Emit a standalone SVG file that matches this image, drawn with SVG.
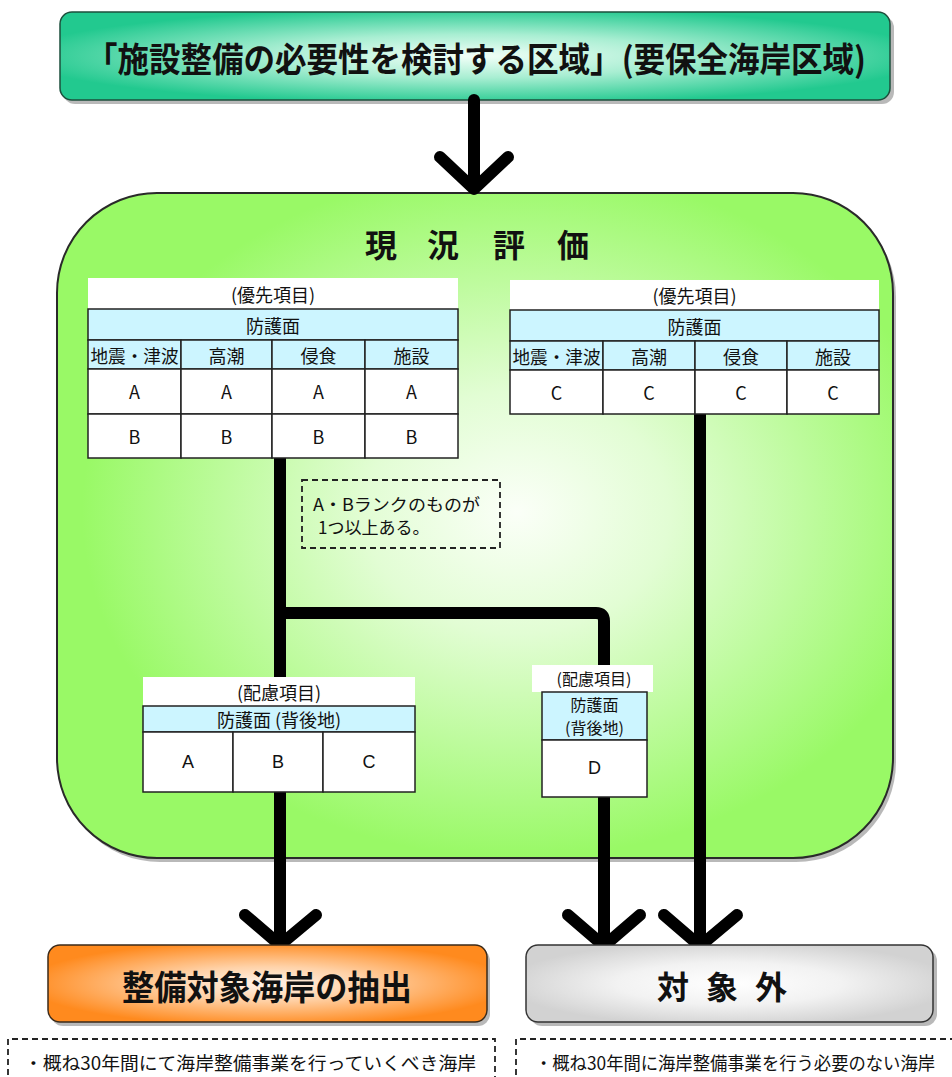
<svg xmlns="http://www.w3.org/2000/svg" width="952" height="1077" viewBox="0 0 952 1077">
<defs>
<radialGradient id="gTop" cx="0.5" cy="0.5" r="0.55">
<stop offset="0" stop-color="#f2fff8"/>
<stop offset="0.45" stop-color="#a8eed2"/>
<stop offset="1" stop-color="#22c98f"/>
</radialGradient>
<radialGradient id="gGreen" cx="0.55" cy="0.48" r="0.52">
<stop offset="0" stop-color="#fbfff8"/>
<stop offset="0.35" stop-color="#e2fdd4"/>
<stop offset="1" stop-color="#99f966"/>
</radialGradient>
<radialGradient id="gOrange" cx="0.5" cy="0.5" r="0.55">
<stop offset="0" stop-color="#fff4ea"/>
<stop offset="0.4" stop-color="#ffd2a8"/>
<stop offset="1" stop-color="#ff8a1e"/>
</radialGradient>
<radialGradient id="gGray" cx="0.5" cy="0.5" r="0.55">
<stop offset="0" stop-color="#ffffff"/>
<stop offset="0.5" stop-color="#f2f2f2"/>
<stop offset="1" stop-color="#d2d2d2"/>
</radialGradient>
</defs>
<style>
.t{font-family:"Noto Sans CJK JP","Noto Sans",sans-serif;fill:#111;text-anchor:middle;dominant-baseline:central}
.big{font-size:34px;font-weight:bold}
.sm{font-size:18px}
.xs{font-size:16px}
.lat{font-family:"Liberation Sans",Arial,sans-serif;font-size:18px;fill:#111;text-anchor:middle;dominant-baseline:central}
.cell{fill:#fff;stroke:#222;stroke-width:1.5}
.cy{fill:#ccf5ff;stroke:#222;stroke-width:1.5}
.wh{fill:#fff}
.shadow{fill:#8a8a8a;opacity:0.6}
.conn{fill:none;stroke:#000;stroke-width:12;stroke-linecap:round;stroke-linejoin:round}
.dash{fill:none;stroke:#222;stroke-width:1.8;stroke-dasharray:6 4}
</style>

<g id="node-top">
<rect class="shadow" x="63" y="16" width="831" height="88" rx="12"/>
<rect x="60" y="12" width="830" height="88" rx="12" fill="url(#gTop)" stroke="#1d4f3c" stroke-width="1.5"/>
<text class="t big" x="476" y="57" textLength="780" lengthAdjust="spacingAndGlyphs">「施設整備の必要性を検討する区域」(要保全海岸区域)</text>
</g>

<g id="node-genkyo">
<rect class="shadow" x="60" y="197" width="836" height="665" rx="100"/>
<rect x="57" y="193" width="836" height="665" rx="100" fill="url(#gGreen)" stroke="#2a2a2a" stroke-width="2"/>
<text class="t" style="font-size:32px;font-weight:bold" x="381" y="243">現</text>
<text class="t" style="font-size:32px;font-weight:bold" x="443" y="243">況</text>
<text class="t" style="font-size:32px;font-weight:bold" x="509" y="243">評</text>
<text class="t" style="font-size:32px;font-weight:bold" x="573" y="243">価</text>
</g>

<g id="connectors">
<path class="conn" d="M474 100 V188"/>
<path class="conn" d="M440 157 L474 189 L508 157"/>
<path class="conn" d="M280 458 V944"/>
<path class="conn" d="M245 915 L280 945 L316 915"/>
<path class="conn" d="M280 613 H596 Q604 613 604 621 V945"/>
<path class="conn" d="M568 915 L604 946 L640 915"/>
<path class="conn" d="M700 414 V945"/>
<path class="conn" d="M664 915 L700 946 L737 915"/>
</g>

<g id="table-priority-left">
<rect class="wh" x="88" y="278" width="370" height="31"/>
<text class="t sm" x="273" y="294">(優先項目)</text>
<rect class="cy" x="88" y="309" width="370" height="31"/>
<text class="t sm" x="273" y="325">防護面</text>
<rect class="cy" x="88" y="340" width="93" height="29"/>
<rect class="cy" x="181" y="340" width="91" height="29"/>
<rect class="cy" x="272" y="340" width="93" height="29"/>
<rect class="cy" x="365" y="340" width="93" height="29"/>
<text class="t sm" x="134.5" y="355" textLength="88" lengthAdjust="spacingAndGlyphs">地震・津波</text>
<text class="t sm" x="226.5" y="355">高潮</text>
<text class="t sm" x="318.5" y="355">侵食</text>
<text class="t sm" x="411.5" y="355">施設</text>
<rect class="cell" x="88" y="369" width="93" height="45"/>
<rect class="cell" x="181" y="369" width="91" height="45"/>
<rect class="cell" x="272" y="369" width="93" height="45"/>
<rect class="cell" x="365" y="369" width="93" height="45"/>
<text class="t sm" x="134.5" y="391">A</text>
<text class="t sm" x="226.5" y="391">A</text>
<text class="t sm" x="318.5" y="391">A</text>
<text class="t sm" x="411.5" y="391">A</text>
<rect class="cell" x="88" y="414" width="93" height="44"/>
<rect class="cell" x="181" y="414" width="91" height="44"/>
<rect class="cell" x="272" y="414" width="93" height="44"/>
<rect class="cell" x="365" y="414" width="93" height="44"/>
<text class="t sm" x="134.5" y="436">B</text>
<text class="t sm" x="226.5" y="436">B</text>
<text class="t sm" x="318.5" y="436">B</text>
<text class="t sm" x="411.5" y="436">B</text>
</g>

<g id="table-priority-right">
<rect class="wh" x="510" y="280" width="369" height="30"/>
<text class="t sm" x="694.5" y="295">(優先項目)</text>
<rect class="cy" x="510" y="310" width="369" height="31"/>
<text class="t sm" x="694.5" y="325.5">防護面</text>
<rect class="cy" x="510" y="341" width="93" height="29"/>
<rect class="cy" x="603" y="341" width="92" height="29"/>
<rect class="cy" x="695" y="341" width="92" height="29"/>
<rect class="cy" x="787" y="341" width="92" height="29"/>
<text class="t sm" x="556.5" y="355.5" textLength="88" lengthAdjust="spacingAndGlyphs">地震・津波</text>
<text class="t sm" x="649" y="355.5">高潮</text>
<text class="t sm" x="741" y="355.5">侵食</text>
<text class="t sm" x="833" y="355.5">施設</text>
<rect class="cell" x="510" y="370" width="93" height="44"/>
<rect class="cell" x="603" y="370" width="92" height="44"/>
<rect class="cell" x="695" y="370" width="92" height="44"/>
<rect class="cell" x="787" y="370" width="92" height="44"/>
<text class="t sm" x="556.5" y="392">C</text>
<text class="t sm" x="649" y="392">C</text>
<text class="t sm" x="741" y="392">C</text>
<text class="t sm" x="833" y="392">C</text>
</g>

<g id="note-ab">
<rect class="dash" x="302" y="480" width="198" height="68"/>
<text class="t" style="font-size:17px;text-anchor:start" x="313" y="503" textLength="167" lengthAdjust="spacingAndGlyphs">A・Bランクのものが</text>
<text class="t" style="font-size:17px;text-anchor:start" x="318" y="526">1つ以上ある。</text>
</g>

<g id="table-consider-left">
<rect class="wh" x="143" y="677" width="272" height="29"/>
<text class="t sm" x="279" y="692">(配慮項目)</text>
<rect class="cy" x="143" y="706" width="272" height="26"/>
<text class="t sm" x="279" y="719">防護面 (背後地)</text>
<rect class="cell" x="143" y="732" width="90" height="60"/>
<rect class="cell" x="233" y="732" width="90" height="60"/>
<rect class="cell" x="323" y="732" width="92" height="60"/>
<text class="lat" x="188" y="762">A</text>
<text class="lat" x="278" y="762">B</text>
<text class="lat" x="369" y="762">C</text>
</g>

<g id="table-consider-right">
<rect class="wh" x="532" y="665" width="121" height="27"/>
<text class="t xs" x="594" y="678">(配慮項目)</text>
<rect class="cy" x="542" y="692" width="105" height="48"/>
<text class="t xs" x="594.5" y="704">防護面</text>
<text class="t xs" x="594.5" y="727">(背後地)</text>
<rect class="cell" x="542" y="740" width="105" height="57"/>
<text class="lat" x="594.5" y="768">D</text>
</g>

<g id="node-extract">
<rect class="shadow" x="51" y="949" width="439" height="77" rx="12"/>
<rect x="48" y="945" width="439" height="77" rx="12" fill="url(#gOrange)" stroke="#3a2a1a" stroke-width="1.5"/>
<text class="t big" x="267" y="985" textLength="290" lengthAdjust="spacingAndGlyphs">整備対象海岸の抽出</text>
</g>

<g id="node-excluded">
<rect class="shadow" x="530" y="949" width="407" height="77" rx="12"/>
<rect x="526" y="945" width="407" height="77" rx="12" fill="url(#gGray)" stroke="#333" stroke-width="1.5"/>
<text class="t" style="font-size:32px;font-weight:bold" x="673" y="985">対</text>
<text class="t" style="font-size:32px;font-weight:bold" x="722" y="985">象</text>
<text class="t" style="font-size:32px;font-weight:bold" x="771" y="985">外</text>
</g>

<g id="note-extract">
<path class="dash" d="M8 1085 V1039 H495 V1085"/>
<text class="t" style="font-size:18px;text-anchor:start" x="24" y="1062" textLength="452" lengthAdjust="spacingAndGlyphs">・概ね30年間にて海岸整備事業を行っていくべき海岸</text>
</g>

<g id="note-excluded">
<path class="dash" d="M516 1085 V1039 H960"/>
<text class="t" style="font-size:18px;text-anchor:start" x="535" y="1062" textLength="400" lengthAdjust="spacingAndGlyphs">・概ね30年間に海岸整備事業を行う必要のない海岸</text>
</g>
</svg>
